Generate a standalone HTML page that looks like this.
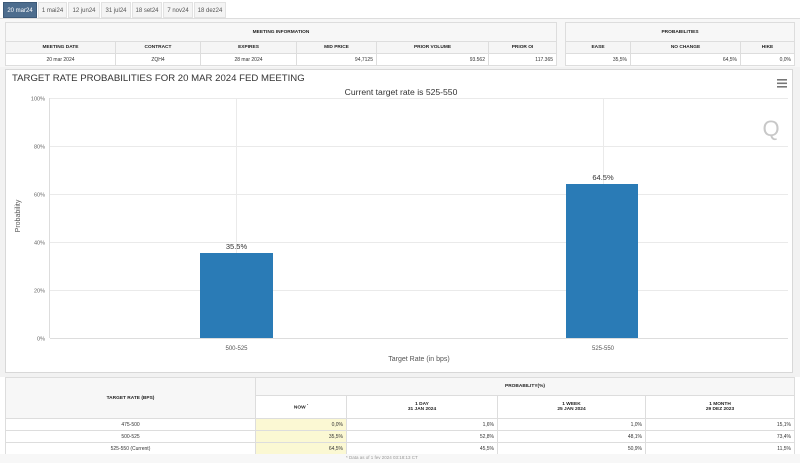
<!DOCTYPE html>
<html><head><meta charset="utf-8">
<style>
*{margin:0;padding:0;box-sizing:border-box}
body{width:800px;height:463px;background:#fff;font-family:"Liberation Sans",sans-serif;position:relative;overflow:hidden;color:#333}
.a{position:absolute}
.tab{position:absolute;top:2px;height:16px;font-size:6px;line-height:16px;text-align:center;color:#555;background:#f4f4f4;border:1px solid #e2e2e2}
.tab.on{background:#4d6d8e;color:#fff;border-color:#3d5a78}
table{border-collapse:collapse;position:absolute;font-size:5px}
td{border:1px solid #ddd;padding:0 3px;height:12px;white-space:nowrap}
th{border:1px solid #ddd;font-weight:bold;font-size:4.8px;background:#f5f5f5;color:#222;text-align:center;white-space:nowrap}
.r{text-align:right}
.c{text-align:center}
.y{background:#fbf8d3}
</style></head><body>
<div class="a" style="left:0;top:18px;width:800px;height:1px;background:#ddd"></div>
<div class="tab on" style="left:3px;width:34px">20 mar24</div>
<div class="tab" style="left:38px;width:29px">1 mai24</div>
<div class="tab" style="left:68px;width:32px">12 jun24</div>
<div class="tab" style="left:101px;width:30px">31 jul24</div>
<div class="tab" style="left:132px;width:30px">18 set24</div>
<div class="tab" style="left:163px;width:30px">7 nov24</div>
<div class="tab" style="left:194px;width:32px">18 dez24</div>

<div class="a" style="left:0;top:19px;width:800px;height:50px;background:#f7f7f7"></div>
<table style="left:5px;top:22px;width:552px">
<tr><th colspan="6" style="height:19px;background:#f7f7f7">MEETING INFORMATION</th></tr>
<tr><th style="width:110px;height:12px">MEETING DATE</th><th style="width:85px">CONTRACT</th><th style="width:96px">EXPIRES</th><th style="width:80px">MID PRICE</th><th style="width:112px">PRIOR VOLUME</th><th>PRIOR OI</th></tr>
<tr style="background:#fff"><td class="c">20 mar 2024</td><td class="c">ZQH4</td><td class="c">28 mar 2024</td><td class="r">94,7125</td><td class="r">93.562</td><td class="r">117.365</td></tr>
</table>
<table style="left:565px;top:22px;width:230px">
<tr><th colspan="3" style="height:19px;background:#f7f7f7">PROBABILITIES</th></tr>
<tr><th style="width:65px;height:12px">EASE</th><th style="width:110px">NO CHANGE</th><th>HIKE</th></tr>
<tr style="background:#fff"><td class="r">35,5%</td><td class="r">64,5%</td><td class="r">0,0%</td></tr>
</table>

<div class="a" style="left:0;top:67px;width:800px;height:310px;background:#f2f2f2"></div>
<div class="a" style="left:5px;top:69px;width:788px;height:304px;background:#fff;border:1px solid #d8d8d8"></div>
<svg class="a" style="left:0;top:0" width="800" height="463">
<text x="12" y="81" font-family="Liberation Sans, sans-serif" font-size="9.6" fill="#333">TARGET RATE PROBABILITIES FOR 20 MAR 2024 FED MEETING</text>
<text x="401" y="95" text-anchor="middle" font-family="Liberation Sans, sans-serif" font-size="8.6" fill="#333">Current target rate is 525-550</text>
<g fill="#777"><rect x="777" y="79" width="10" height="1.6"/><rect x="777" y="82.5" width="10" height="1.6"/><rect x="777" y="86" width="10" height="1.6"/></g>
<text x="771" y="136" text-anchor="middle" font-family="Liberation Sans, sans-serif" font-size="22" fill="#c8c8c8">Q</text>
<g stroke="#eaeaea" stroke-width="1">
<line x1="50" y1="98.5" x2="788" y2="98.5"/>
<line x1="50" y1="146.5" x2="788" y2="146.5"/>
<line x1="50" y1="194.5" x2="788" y2="194.5"/>
<line x1="50" y1="242.5" x2="788" y2="242.5"/>
<line x1="50" y1="290.5" x2="788" y2="290.5"/>
<line x1="236.5" y1="98" x2="236.5" y2="338"/>
<line x1="603.5" y1="98" x2="603.5" y2="338"/>
</g>
<line x1="49.5" y1="98" x2="49.5" y2="338" stroke="#ddd"/>
<line x1="50" y1="338.5" x2="788" y2="338.5" stroke="#ddd"/>
<g font-family="Liberation Sans, sans-serif" font-size="5.5" fill="#666" text-anchor="end">
<text x="45" y="100.5">100%</text><text x="45" y="148.5">80%</text><text x="45" y="196.5">60%</text><text x="45" y="244.5">40%</text><text x="45" y="292.5">20%</text><text x="45" y="340.5">0%</text>
</g>
<text transform="translate(20,216) rotate(-90)" text-anchor="middle" font-family="Liberation Sans, sans-serif" font-size="7" fill="#555">Probability</text>
<rect x="200" y="253" width="73" height="85" fill="#2a7bb6"/>
<rect x="566" y="184" width="72" height="154" fill="#2a7bb6"/>
<g font-family="Liberation Sans, sans-serif" font-size="7.5" fill="#333" text-anchor="middle">
<text x="236.5" y="249">35.5%</text><text x="603" y="180">64.5%</text>
</g>
<g font-family="Liberation Sans, sans-serif" font-size="6" fill="#555" text-anchor="middle">
<text x="236.5" y="350">500-525</text><text x="603" y="350">525-550</text>
</g>
<text x="419" y="361" text-anchor="middle" font-family="Liberation Sans, sans-serif" font-size="7" fill="#555">Target Rate (in bps)</text>
</svg>

<table style="left:5px;top:377px;width:790px">
<tr><th rowspan="2" style="width:250px;background:#f7f7f7">TARGET RATE (BPS)</th><th colspan="4" style="height:18px;background:#f7f7f7">PROBABILITY(%)</th></tr>
<tr><th style="width:91px;height:23px;background:#fff">NOW <sup style="font-size:3px">*</sup></th><th style="width:151px;background:#fff">1 DAY<br>31 JAN 2024</th><th style="width:148px;background:#fff">1 WEEK<br>25 JAN 2024</th><th style="background:#fff">1 MONTH<br>29 DEZ 2023</th></tr>
<tr><td class="c" style="height:12px">475-500</td><td class="r y">0,0%</td><td class="r">1,6%</td><td class="r">1,0%</td><td class="r">15,1%</td></tr>
<tr><td class="c">500-525</td><td class="r y">35,5%</td><td class="r">52,8%</td><td class="r">48,1%</td><td class="r">73,4%</td></tr>
<tr><td class="c" style="height:11px">525-550 (Current)</td><td class="r y">64,5%</td><td class="r">45,5%</td><td class="r">50,9%</td><td class="r">11,5%</td></tr>
</table>
<div class="a" style="left:0;top:454px;width:800px;height:9px;background:#f7f7f7"></div>
<div class="a" style="left:346px;top:455px;font-size:4.5px;color:#999">* Data as of 1 fev 2024 03:18:13 CT</div>
</body></html>
